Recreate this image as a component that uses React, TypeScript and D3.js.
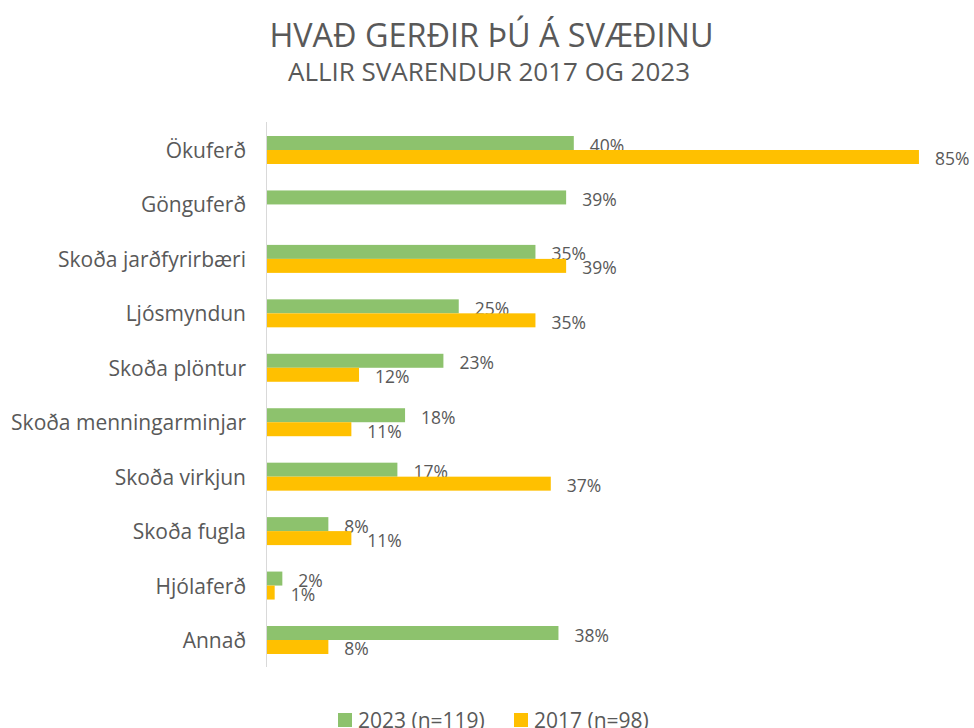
import React from "react";
import * as d3 from "d3";

const categories = [
  "Ökuferð",
  "Gönguferð",
  "Skoða jarðfyrirbæri",
  "Ljósmyndun",
  "Skoða plöntur",
  "Skoða menningarminjar",
  "Skoða virkjun",
  "Skoða fugla",
  "Hjólaferð",
  "Annað",
];
const values2023: (number | null)[] = [40, 39, 35, 25, 23, 18, 17, 8, 2, 38];
const values2017: (number | null)[] = [85, null, 39, 35, 12, 11, 37, 11, 1, 8];
const seriesNames = ["2023 (n=119)", "2017 (n=98)"];
const seriesKeys = ["2023", "2017"];
const colors = ["#8DC26D", "#FFC000"];
const title = "HVAÐ GERÐIR ÞÚ Á SVÆÐINU";
const subtitle = "ALLIR SVARENDUR 2017 OG 2023";

const W = 974;
const H = 728;
const FONT = "'Open Sans', 'Noto Sans', sans-serif";
const TXT = "#595959";

export default function App() {
  const y = d3
    .scaleBand<string>()
    .domain(categories)
    .range([122.78, 667.22])
    .paddingInner(0.486)
    .paddingOuter(0.243);
  const inner = d3
    .scaleBand<string>()
    .domain(seriesKeys)
    .range([0, y.bandwidth()]);
  const x = d3.scaleLinear().domain([0, 90]).range([267, 957.3]);
  const series = [values2023, values2017];

  return (
    <svg
      width={W}
      height={H}
      style={{ position: "absolute", left: 0, top: 0, background: "#fff" }}
      fontFamily={FONT}
    >
      <text x={491.5} y={34} textAnchor="middle" dominantBaseline="central" fontSize={32.4} fill={TXT}>
        {title}
      </text>
      <text x={489} y={71} textAnchor="middle" dominantBaseline="central" fontSize={26} fill={TXT}>
        {subtitle}
      </text>

      {categories.map((c, i) => (
        <g key={c}>
          <text
            x={246}
            y={(y(c) as number) + y.bandwidth() / 2}
            textAnchor="end"
            dominantBaseline="central"
            fontSize={21}
            fill={TXT}
          >
            {c}
          </text>
          {series.map((vals, s) => {
            const v = vals[i];
            if (v === null) return null;
            const by = (y(c) as number) + (inner(seriesKeys[s]) as number);
            const bh = inner.bandwidth();
            return (
              <g key={s}>
                <rect x={x(0)} y={by} width={x(v) - x(0)} height={bh} fill={colors[s]} />
                <text
                  x={x(v) + 16}
                  y={by + bh / 2 + 1.5}
                  dominantBaseline="central"
                  fontSize={17.5}
                  fill={TXT}
                >
                  {v + "%"}
                </text>
              </g>
            );
          })}
        </g>
      ))}

      <line x1={266.5} x2={266.5} y1={122} y2={667} stroke="#d9d9d9" strokeWidth={1} />

      {seriesNames.map((n, s) => {
        const lx = s === 0 ? 338 : 514;
        return (
          <g key={n}>
            <rect x={lx} y={713} width={14} height={14} fill={colors[s]} />
            <text x={lx + 20} y={720} dominantBaseline="central" fontSize={21} fill={TXT}>
              {n}
            </text>
          </g>
        );
      })}
    </svg>
  );
}
